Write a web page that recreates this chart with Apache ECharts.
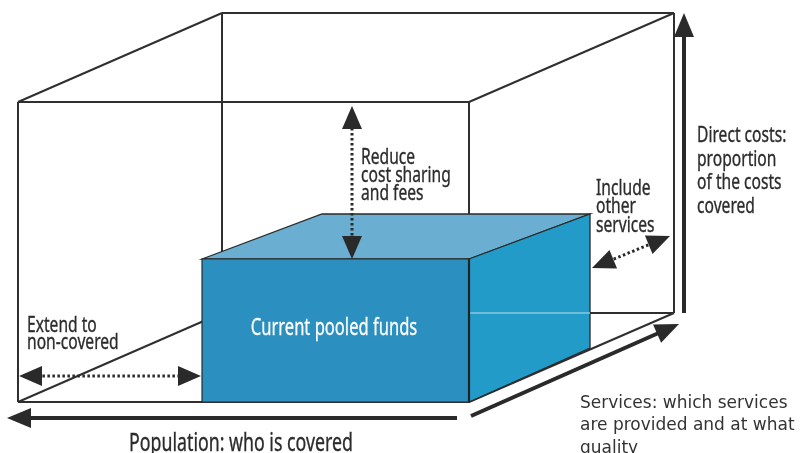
<!DOCTYPE html>
<html>
<head>
<meta charset="utf-8">
<script src="https://cdn.jsdelivr.net/npm/echarts@6/dist/echarts.min.js"></script>
<style>
  html, body { margin: 0; padding: 0; background: #fff; }
  #chart { width: 807px; height: 453px; }
</style>
</head>
<body>
<div id="chart"></div>
<script>
// diagram space = the 807 x 453 picture, y measured downwards

// wireframe of the full cube (every edge, box drawn on top hides what it covers)
var cubeEdges = [
    [[18, 102], [469, 102]], [[18, 102], [18, 402]], [[18, 402], [469, 402]], [[469, 102], [469, 402]],
    [[222, 13], [674, 13]], [[222, 13], [222, 313]], [[222, 313], [674, 313]], [[674, 13], [674, 313]],
    [[18, 102], [222, 13]], [[469, 102], [674, 13]], [[18, 402], [222, 313]], [[469, 402], [674, 313]]
];

// current pooled funds box
var fundsFront = [[202, 259], [469, 259], [469, 402], [202, 402]];
var fundsTop = [[202, 259], [322, 214], [590, 214], [469, 259]];
var fundsSide = [[469, 259], [590, 214], [590, 348], [469, 402]];
var fundsHidden = [[469, 313], [590, 313]];

// solid axis arrows (tail, tip) and dotted two-way arrows
var axisArrows = [
    [[457, 418], [7, 418]],
    [[471, 416], [679, 324]],
    [[684, 313], [684, 13]]
];
var dottedArrows = [
    [[352, 259], [352, 106]],
    [[19, 376], [201, 376]],
    [[592, 268], [670, 236]]
];

var labelTexts = [
    'Reduce\ncost sharing\nand fees',
    'Direct costs:\nproportion\nof the costs\ncovered',
    'Include\nother\nservices',
    'Extend to\nnon-covered',
    'Current pooled funds',
    'Population: who is covered',
    'Services: which services\nare provided and at what\nquality'
];
var labelAnchors = [[361, 149], [697, 124], [596, 179], [27, 317], [334, 328], [241, 444], [580, 392]];

// condensed look: Noto Sans squeezed horizontally
var cond = "'Noto Sans', sans-serif";
var labelStyles = [
    { font: cond, size: 22, lh: 18, sx: 0.71, color: '#2b2b2b', bold: 0.35, align: 'left', va: 'top' },
    { font: cond, size: 22, lh: 23.5, sx: 0.71, color: '#2b2b2b', bold: 0.35, align: 'left', va: 'top' },
    { font: cond, size: 22, lh: 18.5, sx: 0.71, color: '#2b2b2b', bold: 0.35, align: 'left', va: 'top' },
    { font: cond, size: 22, lh: 17, sx: 0.71, color: '#2b2b2b', bold: 0.35, align: 'left', va: 'top' },
    { font: cond, size: 24, lh: 24, sx: 0.69, color: '#ffffff', bold: 0.3, align: 'center', va: 'middle' },
    { font: cond, size: 25, lh: 25, sx: 0.71, color: '#2b2b2b', bold: 0.35, align: 'center', va: 'middle' },
    { font: "'DejaVu Sans', Verdana, sans-serif", size: 17, lh: 22.5, sx: 1, color: '#333333', bold: 0, align: 'left', va: 'top' }
];

var chart = echarts.init(document.getElementById('chart'));

function pts(api, list) {
    return list.map(function (p) { return api.coord(p); });
}

function arrow(api, a, b, both, w, hl, hw, color, dash) {
    var p = api.coord(a), q = api.coord(b);
    var dx = q[0] - p[0], dy = q[1] - p[1];
    var len = Math.sqrt(dx * dx + dy * dy);
    var ux = dx / len, uy = dy / len, nx = -uy, ny = ux;
    var s = both ? [p[0] + ux * hl * 0.8, p[1] + uy * hl * 0.8] : p;
    var e = [q[0] - ux * hl * 0.8, q[1] - uy * hl * 0.8];
    function head(t, dir) {
        var bx = t[0] - dir * ux * hl, by = t[1] - dir * uy * hl;
        return {
            type: 'polygon',
            shape: { points: [t, [bx + nx * hw / 2, by + ny * hw / 2], [bx - nx * hw / 2, by - ny * hw / 2]] },
            style: { fill: color }
        };
    }
    var kids = [{
        type: 'line',
        shape: { x1: s[0], y1: s[1], x2: e[0], y2: e[1] },
        style: { stroke: color, lineWidth: w, lineDash: dash }
    }, head(q, 1)];
    if (both) kids.push(head(p, -1));
    return { type: 'group', children: kids };
}

function idx(list) {
    return list.map(function (d, i) { return [0, 0, i]; });
}

chart.setOption({
    animation: false,
    grid: { left: 0, right: 0, top: 0, bottom: 0 },
    xAxis: { type: 'value', min: 0, max: 807, show: false },
    yAxis: { type: 'value', min: 0, max: 453, inverse: true, show: false },
    series: [
        {
            type: 'custom',
            name: 'cube',
            data: idx(cubeEdges),
            renderItem: function (params, api) {
                var e = pts(api, cubeEdges[params.dataIndex]);
                return {
                    type: 'line',
                    shape: { x1: e[0][0], y1: e[0][1], x2: e[1][0], y2: e[1][1] },
                    style: { stroke: '#2f2f2f', lineWidth: 2 }
                };
            }
        },
        {
            type: 'custom',
            name: 'funds',
            data: [[0, 0, 0]],
            renderItem: function (params, api) {
                var h = pts(api, fundsHidden);
                var edge = pts(api, [fundsFront[1], fundsFront[2]]);
                return {
                    type: 'group',
                    children: [
                        { type: 'polygon', shape: { points: pts(api, fundsTop) }, style: { fill: '#6aaed2', stroke: '#2a2a2a', lineWidth: 1.3 } },
                        { type: 'polygon', shape: { points: pts(api, fundsSide) }, style: { fill: '#239bc8', stroke: '#2a2a2a', lineWidth: 1.3 } },
                        { type: 'polygon', shape: { points: pts(api, fundsFront) }, style: { fill: '#2b8fbf', stroke: '#2a2a2a', lineWidth: 1.2 } },
                        { type: 'line', shape: { x1: h[0][0], y1: h[0][1], x2: h[1][0], y2: h[1][1] }, style: { stroke: '#8cc6e0', lineWidth: 1.5 } },
                        { type: 'line', shape: { x1: edge[0][0], y1: edge[0][1], x2: edge[1][0], y2: edge[1][1] }, style: { stroke: '#222', lineWidth: 2.2 } }
                    ]
                };
            }
        },
        {
            type: 'custom',
            name: 'axes arrows',
            data: idx(axisArrows),
            renderItem: function (params, api) {
                var a = axisArrows[params.dataIndex];
                return arrow(api, a[0], a[1], false, 4, 24, 20, '#2a2a2a', null);
            }
        },
        {
            type: 'custom',
            name: 'dotted arrows',
            data: idx(dottedArrows),
            renderItem: function (params, api) {
                var a = dottedArrows[params.dataIndex];
                return arrow(api, a[0], a[1], true, 3, 23, 20, '#2a2a2a', [2.5, 2.5]);
            }
        },
        {
            type: 'custom',
            name: 'labels',
            data: idx(labelTexts),
            renderItem: function (params, api) {
                var i = params.dataIndex, st = labelStyles[i];
                var p = api.coord(labelAnchors[i]);
                return {
                    type: 'text',
                    x: p[0], y: p[1],
                    scaleX: st.sx,
                    style: {
                        text: labelTexts[i],
                        fontFamily: st.font,
                        fontSize: st.size,
                        lineHeight: st.lh,
                        fill: st.color,
                        stroke: st.bold ? st.color : null,
                        lineWidth: st.bold,
                        align: st.align,
                        verticalAlign: st.va
                    }
                };
            }
        }
    ]
});
</script>
</body>
</html>
